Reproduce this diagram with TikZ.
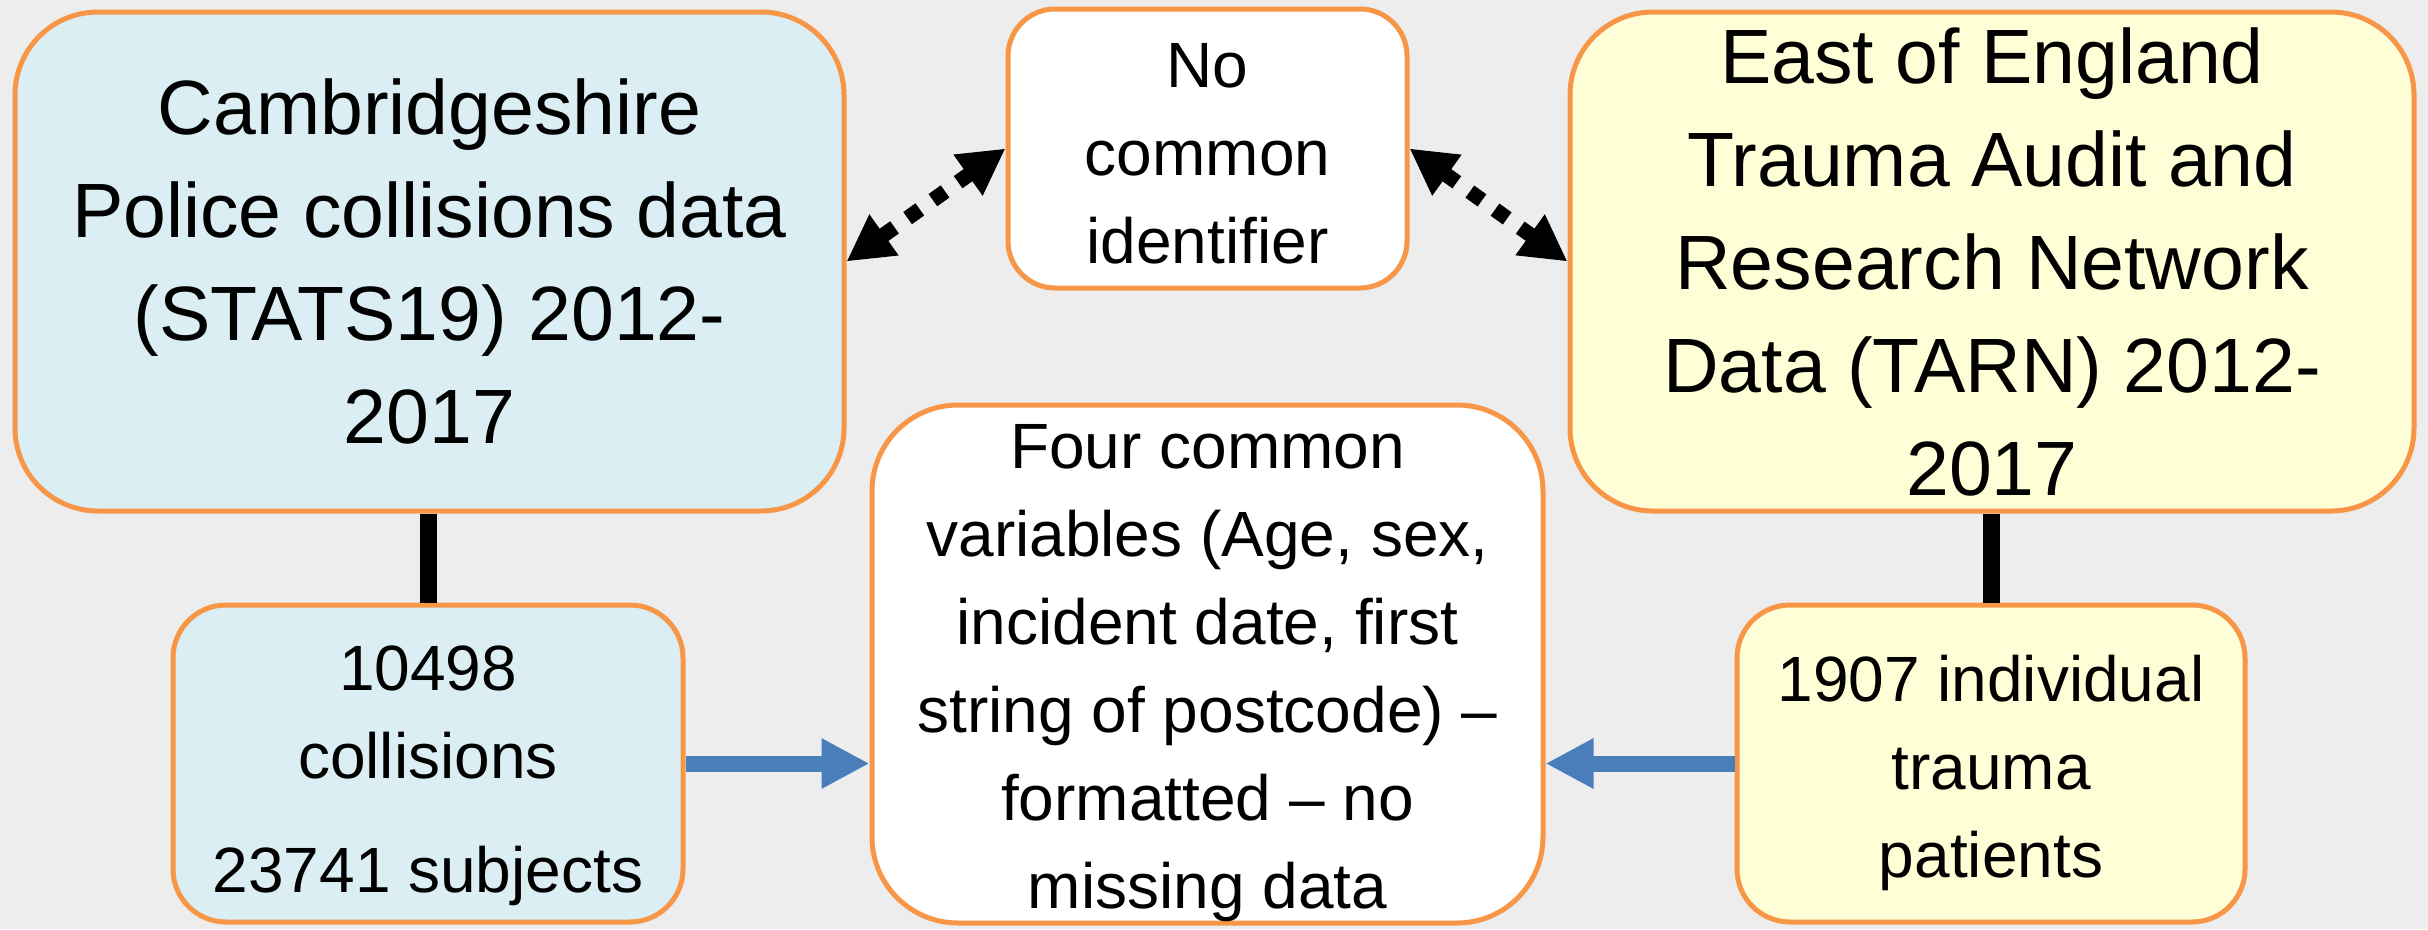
\documentclass[tikz,border=0pt]{standalone}
\usepackage{fontspec}
\setmainfont{Liberation Sans}
\usetikzlibrary{arrows.meta}
\definecolor{bgc}{HTML}{EDEDED}
\definecolor{bordc}{HTML}{F79646}
\definecolor{bluefill}{HTML}{DAEEF3}
\definecolor{yelfill}{HTML}{FFFFD7}
\definecolor{arrowblue}{HTML}{4A7EBB}
\begin{document}
\begin{tikzpicture}[x=1pt,y=-1pt,
  box/.style={draw=bordc, line width=5pt, align=center, inner sep=0pt},
  bigtext/.style={font=\fontsize{77}{103}\selectfont},
  midtext/.style={font=\fontsize{64}{88}\selectfont},
  dotarrow/.style={line width=15pt, dash pattern=on 15pt off 16pt,
    {Triangle[length=46pt,width=47pt]}-{Triangle[length=46pt,width=47pt]}},
  bluearrow/.style={draw=arrowblue, line width=16pt,
    -{Triangle[length=48pt,width=47pt,fill=arrowblue]}},
  stem/.style={line width=17pt}]
\fill[bgc] (0,0) rectangle (2428,929);
\useasboundingbox (0,0) rectangle (2428,929);

\node[box, bigtext, fill=bluefill, minimum width=829pt, minimum height=499pt, rounded corners=83pt]
  (A) at (429.5,261.5) {Cambridgeshire\\Police collisions data\\(STATS19) 2012-\\2017};
\node[box, midtext, fill=white, minimum width=399pt, minimum height=279pt, rounded corners=47pt]
  (B) at (1207.5,148.5) {\rule{0pt}{54pt}No\\common\\identifier};
\node[box, bigtext, fill=yelfill, minimum width=844pt, minimum height=499pt, rounded corners=83pt]
  (C) at (1992,261.5) {East of England\\Trauma Audit and\\Research Network\\Data (TARN) 2012-\\2017};
\node[box, midtext, fill=bluefill, minimum width=510pt, minimum height=317pt, rounded corners=53pt]
  (D) at (428,763.5) {\rule{0pt}{70pt}10498\\collisions\\[26pt]23741 subjects};
\node[box, midtext, fill=white, minimum width=671pt, minimum height=518pt, rounded corners=86pt]
  (E) at (1207.5,664) {\rule{0pt}{62pt}Four common\\variables (Age, sex,\\incident date, first\\string of postcode) –\\formatted – no\\missing data};
\node[box, midtext, fill=yelfill, minimum width=508pt, minimum height=317pt, rounded corners=53pt]
  (F) at (1991,763.5) {\rule{0pt}{65pt}1907 individual\\trauma\\patients};

\draw[stem] (A.south -| D.north) -- (D.north);
\draw[stem] (F.north) -- (F.north |- C.south);
\draw[dotarrow] (B.west) -- (A.east);
\draw[dotarrow] (B.east) -- (C.west);
\draw[bluearrow] (D.east) -- (D.east -| E.west);
\draw[bluearrow] (F.west) -- (F.west -| E.east);
\end{tikzpicture}
\end{document}
